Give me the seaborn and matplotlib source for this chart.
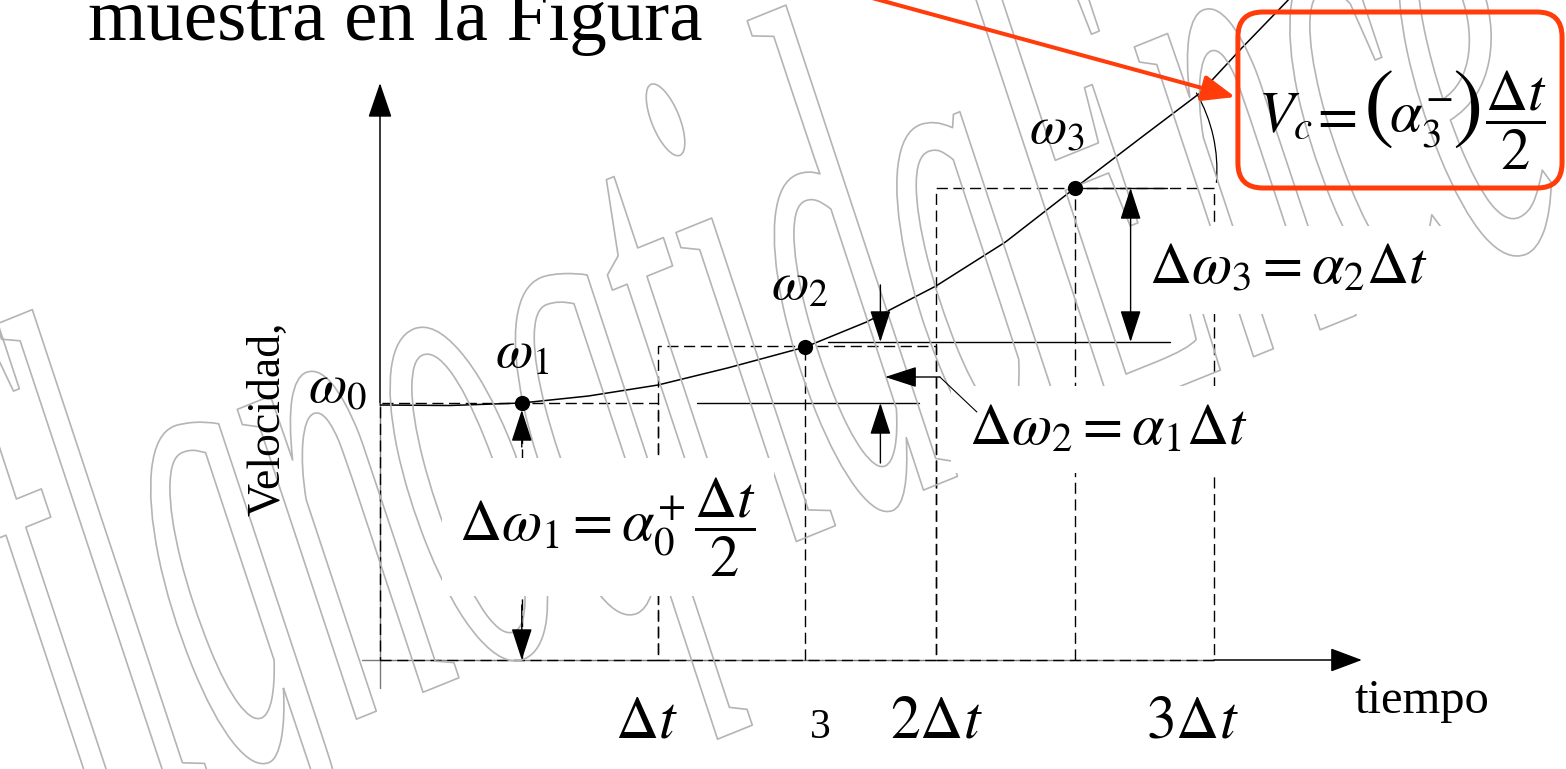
import matplotlib
matplotlib.use("Agg")
import matplotlib.pyplot as plt
import seaborn as sns
from matplotlib.patches import FancyBboxPatch, Arc
from matplotlib import patheffects
from matplotlib.transforms import Affine2D

sns.set_theme(style="white")
plt.rcParams["font.family"] = ["Liberation Serif", "DejaVu Serif"]
plt.rcParams["mathtext.fontset"] = "stix"
plt.rcParams["text.color"] = "black"

# ---- data (time in units of Δt, angular velocity in arbitrary units) ----
step_centers = [0.5, 1.5, 2.5]
step_heights = [2.57, 3.14, 4.72]
sample_t = [0.51, 1.53, 2.50]
sample_w = [2.57, 3.13, 4.72]
sample_labels = [r"$\omega_1$", r"$\omega_2$", r"$\omega_3$"]
curve_t = [0.00, 0.25, 0.51, 0.75, 1.00, 1.25, 1.53, 1.75, 2.00, 2.25,
           2.50, 2.75, 2.95, 3.10, 3.26, 3.30]
curve_w = [2.55, 2.545, 2.57, 2.64, 2.75, 2.92, 3.13, 3.38, 3.74, 4.18,
           4.72, 5.25, 5.67, 6.12, 6.58, 6.70]
tick_pos = [0.96, 1.583, 2.0, 2.921]
tick_labels = [r"$\Delta t$", "3", r"$2\Delta t$", r"$3\Delta t$"]

INK = "black"
RED = "#ff3c0a"
DASH = (0, (8, 4))
FS = 42

fig = plt.figure(figsize=(15.66, 7.69), dpi=100)
ax = fig.add_axes([0, 0, 1, 1])

# dashed rectangles of the step approximation
sns.barplot(x=step_centers, y=step_heights, native_scale=True, width=1.0,
            fill=False, color=INK, linewidth=1.0, linestyle=DASH,
            errorbar=None, ax=ax, zorder=2)
# dashed verticals under each sample
ax.vlines(sample_t, 0, sample_w, colors=INK, linewidth=1.0,
          linestyles=[DASH], zorder=2)

# velocity curve and sample points
sns.lineplot(x=curve_t, y=curve_w, sort=False, color=INK, linewidth=1.1,
             ax=ax, zorder=3)
sns.scatterplot(x=sample_t, y=sample_w, color=INK, s=120, linewidth=0,
                ax=ax, zorder=6)

ax.set_xlim(-1.3669, 4.2662)
ax.set_ylim(-1.09, 6.60)
ax.set_axis_off()


def arrow(p0, p1, style="-|>", hl=20, hw=6.5, lw=1.0, color=INK, z=7):
    ax.annotate("", xy=p1, xytext=p0, zorder=z,
                arrowprops=dict(arrowstyle=f"{style},head_length={hl},head_width={hw}",
                                mutation_scale=1, color=color, lw=lw,
                                shrinkA=0, shrinkB=0))


# coordinate axes
ax.plot([-0.065, 3.0], [0, 0], color="#7a7a7a", lw=1.0, zorder=1)
arrow((3.0, 0), (3.532, 0), hl=20, hw=7.5, lw=1.1)
ax.plot([0, 0], [-0.28, 2.57], color="#7a7a7a", lw=1.0, zorder=1)
arrow((0, 2.57), (0, 5.77), hl=22, hw=7.5, lw=1.1)

# dimension lines
ax.plot([1.14, 1.94], [2.57, 2.57], color=INK, lw=1.0, zorder=3)
ax.plot([1.61, 2.84], [3.18, 3.18], color=INK, lw=1.0, zorder=3)
ax.plot([2.50, 2.83], [4.72, 4.72], color=INK, lw=1.0, zorder=3)
arrow((0.51, 2.13), (0.51, 2.50))
arrow((0.51, 0.55), (0.51, 0.0))
arrow((1.80, 3.75), (1.80, 3.18))
arrow((1.80, 1.97), (1.80, 2.57))
arrow((2.70, 3.18), (2.70, 4.72), style="<|-|>")
arrow((2.014, 2.83), (1.817, 2.83))
ax.plot([2.014, 2.147], [2.83, 2.48], color=INK, lw=0.8, zorder=6)

# angle mark near the top of the curve
ax.add_patch(Arc((2.453, 4.90), 1.115, 3.10, theta1=-13, theta2=58,
                 color=INK, lw=0.9, zorder=3))

# labels
ax.text(-0.047, 2.58, r"$\omega_0$", fontsize=40, ha="right", va="baseline", zorder=8)
label_dx = [0.0, -0.02, -0.065]
label_y = [2.92, 3.60, 5.17]
for t, dx, y, lab in zip(sample_t, label_dx, label_y, sample_labels):
    ax.text(t + dx, y, lab, fontsize=39, ha="center", va="baseline", zorder=8)

for x, lab in zip(tick_pos, tick_labels):
    ax.text(x, -0.78, lab, fontsize=30 if lab == "3" else 43,
            ha="center", va="baseline", zorder=8)

ax.text(3.507, -0.53, "tiempo", fontsize=35, ha="left", va="baseline", zorder=8)
ax.text(-0.403, 2.41, "Velocidad,", fontsize=33, rotation=90,
        ha="center", va="center", zorder=8)
ax.text(-1.0504, 6.20, "muestra en la Figura", fontsize=54,
        ha="left", va="baseline", zorder=8)

box = dict(boxstyle="square,pad=0.3", facecolor="white", edgecolor="none")
ax.text(0.82, 1.33, r"$\Delta\omega_1 = \alpha_0^{+}\,\dfrac{\Delta t}{2}$",
        fontsize=FS, ha="center", va="center", bbox=box, zorder=5)
ax.text(2.619, 2.30, r"$\Delta\omega_2 = \alpha_1\Delta t$",
        fontsize=FS, ha="center", va="center", bbox=box, zorder=5)
ax.text(3.266, 3.90, r"$\Delta\omega_3 = \alpha_2\Delta t$",
        fontsize=FS, ha="center", va="center", bbox=box, zorder=5)

# highlighted result
ax.add_patch(FancyBboxPatch((3.086, 4.72), 1.166, 1.76,
                            boxstyle="round,pad=0,rounding_size=0.09",
                            mutation_aspect=2.78, facecolor="none",
                            edgecolor=RED, lw=3.6, zorder=5))
vc_base = 5.28
ax.text(3.158, vc_base, r"$V_c$", fontsize=FS, ha="left", va="baseline", zorder=8)
ax.text(3.428, vc_base, r"$=$", fontsize=FS, ha="center", va="baseline", zorder=8)
ax.text(3.590, vc_base, r"$($", fontsize=66, ha="center", va="baseline", zorder=8)
ax.text(3.630, vc_base, r"$\alpha_3^{-}$", fontsize=FS, ha="left", va="baseline", zorder=8)
ax.text(3.907, vc_base, r"$)$", fontsize=66, ha="center", va="baseline", zorder=8)
ax.text(4.085, 5.40, r"$\dfrac{\Delta t}{2}$", fontsize=FS, ha="center",
        va="center", zorder=8)
arrow((1.691, 6.68), (3.076, 5.63), hl=20, hw=8, lw=2.9, color=RED, z=9)


# faint outlined lettering across the sheet
class Outline(patheffects.AbstractPathEffect):
    def __init__(self, center, sx, sy, angle, lw, color):
        super().__init__()
        self.center, self.sx, self.sy = center, sx, sy
        self.angle, self.lw, self.color = angle, lw, color

    def draw_path(self, renderer, gc, tpath, affine, rgbFace=None):
        cx, cy = self.center
        warp = (Affine2D().translate(-cx, -cy).rotate_deg(-self.angle)
                .scale(self.sx, self.sy).rotate_deg(self.angle)
                .translate(cx, cy))
        gc0 = renderer.new_gc()
        gc0.copy_properties(gc)
        gc0.set_linewidth(self.lw)
        gc0.set_foreground(self.color)
        renderer.draw_path(gc0, tpath, affine + warp, None)
        gc0.restore()


wm_angle = 22
wm_center = (770, 769 - 360)
wx, wy = ax.transData.inverted().transform(wm_center)
ax.text(wx, wy, "flgnoqtidaEnce", fontsize=200, style="italic",
        family="Liberation Serif", rotation=wm_angle, rotation_mode="anchor",
        ha="center", va="center", zorder=4,
        path_effects=[Outline(wm_center, 0.95, 2.6, wm_angle, 1.2, "#b4b4b4")])

fig.savefig("out.png", dpi=100)
